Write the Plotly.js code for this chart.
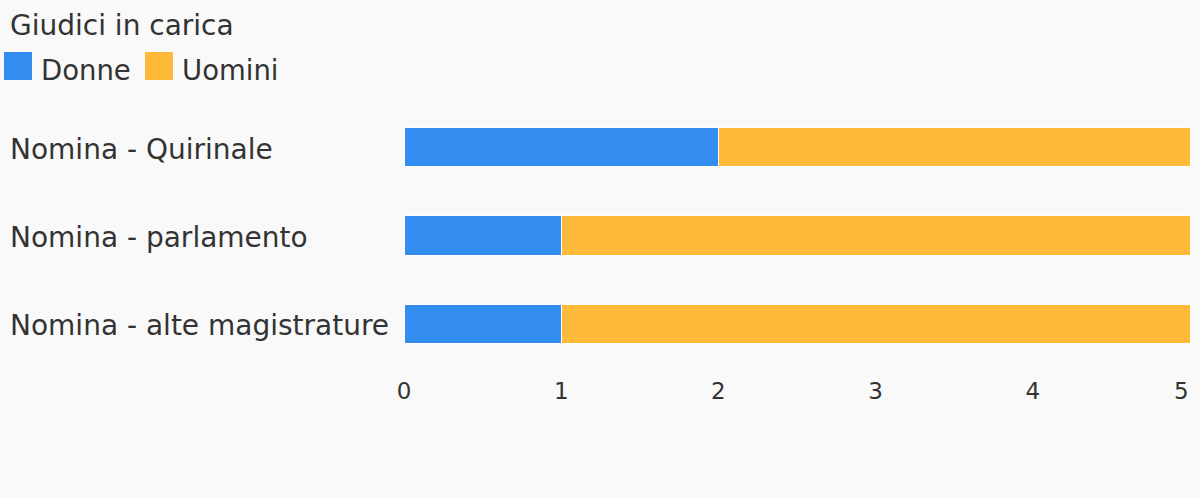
<!DOCTYPE html>
<html>
<head>
<meta charset="utf-8">
<script src="https://cdn.plot.ly/plotly-3.0.1.min.js"></script>
<style>html,body{margin:0;padding:0;background:#f9f9f9;}#chart{width:1200px;height:498px;}</style>
</head>
<body>
<div id="chart"></div>
<script>
const legendTitle = "Giudici in carica";
const categories = ["Nomina - Quirinale", "Nomina - parlamento", "Nomina - alte magistrature"];
const seriesNames = ["Donne", "Uomini"];
const donne = [2, 1, 1];
const uomini = [3, 4, 4];
const tickVals = [0, 1, 2, 3, 4, 5];
const tickLabels = ["0", "1", "2", "3", "4", "5"];

const colors = ["#338cf0", "#ffb938"];
const textColor = "#333333";
const font = "DejaVu Sans, sans-serif";

const W = 1200, H = 498;
const mL = 404, mR = 10, mT = 103, mB = 130;
const pw = W - mL - mR, ph = H - mT - mB;
const px = x => (x - mL) / pw;
const py = y => (H - mB - y) / ph;

const traces = [donne, uomini].map((vals, i) => ({
  type: "bar",
  orientation: "h",
  name: seriesNames[i],
  x: vals,
  y: categories,
  marker: {color: colors[i], line: {color: "#ffffff", width: 1}},
  hoverinfo: "x+name"
}));

const annotations = categories.map(c => ({
  xref: "paper", yref: "y", x: px(8), y: c, xanchor: "left", yanchor: "middle", yshift: -2,
  text: c, showarrow: false, font: {family: font, size: 28, color: textColor}
}));
annotations.push({
  xref: "paper", yref: "paper", x: px(8), y: py(25), xanchor: "left", yanchor: "middle",
  text: legendTitle, showarrow: false, font: {family: font, size: 28, color: textColor}
});
const legendX = [4, 145];
const shapes = [];
seriesNames.forEach((n, i) => {
  shapes.push({type: "rect", xref: "paper", yref: "paper",
    x0: px(legendX[i]), x1: px(legendX[i] + 28), y0: py(80), y1: py(52),
    fillcolor: colors[i], line: {width: 0}});
  annotations.push({xref: "paper", yref: "paper", x: px(legendX[i] + 35), y: py(70),
    xanchor: "left", yanchor: "middle", text: n, showarrow: false,
    font: {family: font, size: 27.5, color: textColor}});
});

// last tick label is right-aligned to the axis end, as in the reference
const nT = tickVals.length;
annotations.push({
  xref: "x", yref: "paper", x: tickVals[nT - 1], y: py(391), xanchor: "right", yanchor: "middle",
  xshift: 1, text: tickLabels[nT - 1], showarrow: false,
  font: {family: font, size: 23, color: textColor}
});

const layout = {
  width: W, height: H,
  paper_bgcolor: "#f9f9f9", plot_bgcolor: "#f9f9f9",
  margin: {l: mL, r: mR, t: mT, b: mB, pad: 0},
  barmode: "stack",
  bargap: 0.557,
  showlegend: false,
  font: {family: font, color: textColor},
  xaxis: {range: [0, 5], tickvals: tickVals.slice(0, nT - 1), ticktext: tickLabels.slice(0, nT - 1),
    showgrid: false, zeroline: false,
    showline: false, ticks: "", tickfont: {family: font, size: 23, color: textColor},
    ticklabelstandoff: 7, fixedrange: true},
  yaxis: {autorange: "reversed", showticklabels: false, showgrid: false, zeroline: false,
    showline: false, ticks: "", fixedrange: true},
  annotations: annotations,
  shapes: shapes
};

Plotly.newPlot("chart", traces, layout, {displayModeBar: false});
</script>
</body>
</html>
